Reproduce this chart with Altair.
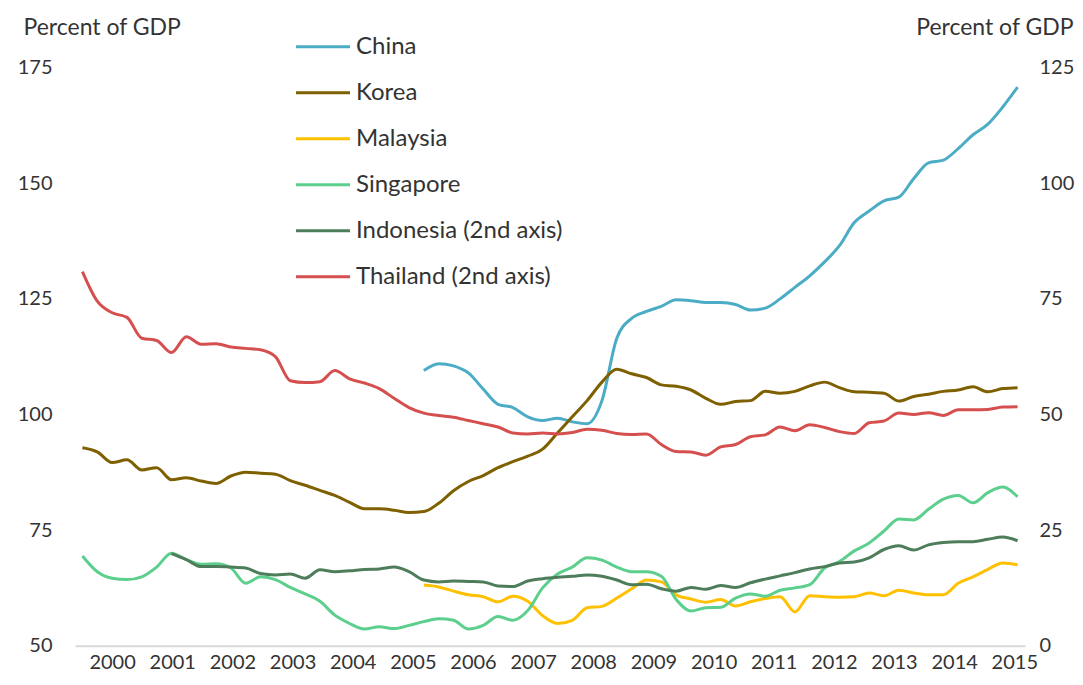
import altair as alt
import pandas as pd

# quarterly positions 2000Q1 .. 2015Q4
t = [2000 + i / 4 for i in range(64)]

series_order = ["China", "Korea", "Malaysia", "Singapore",
                "Indonesia (2nd axis)", "Thailand (2nd axis)"]
colors = ["#4bacc6", "#7f6000", "#ffc000", "#5ccf8d", "#4e7d5b", "#d64f4f"]

N = None
china = [N] * 23 + [
    109.5, 111.0, 110.5, 109.0, 105.5, 102.2, 101.5, 99.5, 98.7, 99.2, 98.4,
    98.0, 103.0, 116.5, 120.8, 122.3, 123.4, 124.8, 124.6, 124.2, 124.2, 123.8,
    122.6, 123.0, 125.0, 127.5, 130.0, 133.0, 136.5, 141.5, 144.0, 146.2, 147.0,
    151.0, 154.4, 155.0, 157.5, 160.5, 162.8, 166.5, 170.8]
korea = [
    92.8, 91.9, 89.6, 90.2, 88.0, 88.5, 85.9, 86.3, 85.6, 85.1, 86.7, 87.5,
    87.3, 87.1, 85.7, 84.7, 83.6, 82.5, 81.0, 79.6, 79.6, 79.3, 78.8, 79.0,
    80.8, 83.5, 85.5, 86.8, 88.5, 89.8, 91.0, 92.5, 96.0, 99.5, 103.0, 107.0,
    109.8, 108.8, 108.0, 106.4, 106.1, 105.3, 103.5, 102.2, 102.8, 103.0, 105.0,
    104.6, 105.0, 106.2, 107.0, 105.8, 104.9, 104.8, 104.6, 102.9, 103.9, 104.4,
    105.0, 105.3, 106.0, 104.9, 105.6, 105.8]
malaysia = [N] * 23 + [
    63.1, 62.7, 61.8, 61.0, 60.6, 59.5, 60.7, 59.6, 56.5, 54.8, 55.5, 58.2,
    58.5, 60.3, 62.3, 64.2, 63.8, 61.0, 60.1, 59.4, 60.0, 58.6, 59.5, 60.2,
    60.6, 57.3, 60.8, 60.6, 60.5, 60.6, 61.4, 60.8, 62.0, 61.4, 61.0, 61.0,
    63.5, 64.9, 66.5, 67.9, 67.5]
singapore = [
    69.4, 66.0, 64.6, 64.3, 64.9, 67.0, 70.0, 68.6, 67.6, 67.7, 66.8, 63.5,
    64.9, 64.3, 62.6, 61.2, 59.6, 56.6, 54.8, 53.6, 54.1, 53.7, 54.4, 55.2,
    55.8, 55.5, 53.6, 54.4, 56.3, 55.5, 57.6, 62.5, 65.5, 67.0, 69.0, 68.5,
    67.0, 66.0, 66.0, 65.0, 60.0, 57.5, 58.2, 58.3, 60.3, 61.2, 60.7, 62.0,
    62.5, 63.2, 66.8, 68.2, 70.5, 72.2, 74.8, 77.4, 77.2, 79.5, 81.7, 82.5,
    80.9, 83.1, 84.3, 82.2]
indonesia = [N] * 6 + [
    19.9, 18.6, 17.1, 17.1, 17.0, 16.8, 15.6, 15.3, 15.5, 14.6, 16.4, 16.0,
    16.2, 16.5, 16.6, 17.0, 16.0, 14.2, 13.8, 14.0, 13.9, 13.8, 12.9, 12.8,
    14.0, 14.5, 14.8, 15.0, 15.3, 15.0, 14.2, 13.2, 13.3, 12.3, 11.8, 12.6,
    12.2, 13.0, 12.6, 13.6, 14.4, 15.1, 15.8, 16.6, 17.1, 17.9, 18.1, 19.0,
    20.8, 21.6, 20.7, 21.8, 22.3, 22.5, 22.5, 23.0, 23.5, 22.7]
thailand = [
    80.9, 74.5, 72.0, 71.0, 66.5, 66.0, 63.4, 66.8, 65.2, 65.3, 64.6, 64.3,
    64.0, 62.5, 57.3, 56.9, 57.1, 59.5, 57.7, 56.8, 55.6, 53.5, 51.5, 50.3,
    49.8, 49.4, 48.7, 48.0, 47.3, 46.0, 45.8, 46.0, 45.8, 46.1, 46.8, 46.6,
    45.9, 45.7, 45.8, 43.5, 42.0, 41.9, 41.2, 43.0, 43.5, 45.2, 45.6, 47.3,
    46.5, 47.8, 47.2, 46.3, 45.9, 48.2, 48.6, 50.3, 50.0, 50.4, 49.8, 51.0,
    51.0, 51.1, 51.6, 51.7]

years = list(range(2000, 2016))
left_ticks = [50, 75, 100, 125, 150, 175]
right_ticks = [0, 25, 50, 75, 100, 125]


def long(names, arrays):
    rows = []
    for name, arr in zip(names, arrays):
        for ti, v in zip(t, arr):
            if v is not None:
                rows.append({"t": ti, "series": name, "value": v})
    return pd.DataFrame(rows)


left_df = long(series_order[:4], [china, korea, malaysia, singapore])
right_df = long(series_order[4:], [indonesia, thailand])

FONT = "Lato"
TXT = "#333333"

# label positions: centred under each year block
year_label_pos = [y + 0.5 + 0.013 * (y - 2000) for y in years]

x_enc = alt.X(
    "t:Q",
    scale=alt.Scale(domain=[1999.875, 2015.875], nice=False, zero=False),
    axis=alt.Axis(values=year_label_pos, labelExpr="floor(datum.value)",
                  ticks=False, grid=False, domainColor="#d9d9d9",
                  domainWidth=2, labelPadding=7, labelFontSize=20,
                  labelFont=FONT, labelColor=TXT, title=None,
                  labelFlush=False, labelOverlap=False),
)

legend = alt.Legend(
    orient="none", legendX=254, legendY=-33, title=None,
    symbolType="M-5,0H1", symbolSize=324, symbolStrokeWidth=3,
    labelFontSize=24, labelFont=FONT, labelColor=TXT, labelOffset=3,
    rowPadding=22, padding=0, labelLimit=400,
)
color_enc = alt.Color(
    "series:N",
    scale=alt.Scale(domain=series_order, range=colors),
    sort=series_order, legend=legend,
)

left = alt.Chart(left_df).mark_line(
    strokeWidth=3, interpolate="monotone"
).encode(
    x=x_enc,
    y=alt.Y("value:Q",
            scale=alt.Scale(domain=[50, 175], nice=False, zero=False),
            axis=alt.Axis(values=left_ticks, ticks=False, grid=False,
                          domain=False, labelPadding=23, labelFontSize=20,
                          labelFont=FONT, labelColor=TXT,
                          title="Percent of GDP", titleAngle=0,
                          titleAlign="left", titleBaseline="middle",
                          titleX=-52, titleY=-40, titleFont=FONT,
                          titleFontSize=23, titleFontWeight="normal",
                          titleColor=TXT)),
    color=color_enc,
    order=alt.Order("t:Q"),
)

right = alt.Chart(right_df).mark_line(
    strokeWidth=3, interpolate="monotone"
).encode(
    x=x_enc,
    y=alt.Y("value:Q",
            scale=alt.Scale(domain=[0, 125], nice=False, zero=False),
            axis=alt.Axis(orient="right", values=right_ticks, ticks=False,
                          grid=False, domain=False, labelPadding=14,
                          labelFontSize=20, labelFont=FONT, labelColor=TXT,
                          title="Percent of GDP", titleAngle=0,
                          titleAlign="right", titleBaseline="middle",
                          titleX=48, titleY=-40, titleFont=FONT,
                          titleFontSize=23, titleFontWeight="normal",
                          titleColor=TXT)),
    color=color_enc,
    order=alt.Order("t:Q"),
)

chart = alt.layer(left, right).resolve_scale(y="independent").properties(
    width=950, height=578,
    padding={"left": 67, "top": 59.7, "right": 50, "bottom": 31},
    autosize=alt.AutoSizeParams(type="none"),
    background="white",
).configure_view(stroke=None)

chart.save("out.html", embed_options={"renderer": "svg", "actions": False})
